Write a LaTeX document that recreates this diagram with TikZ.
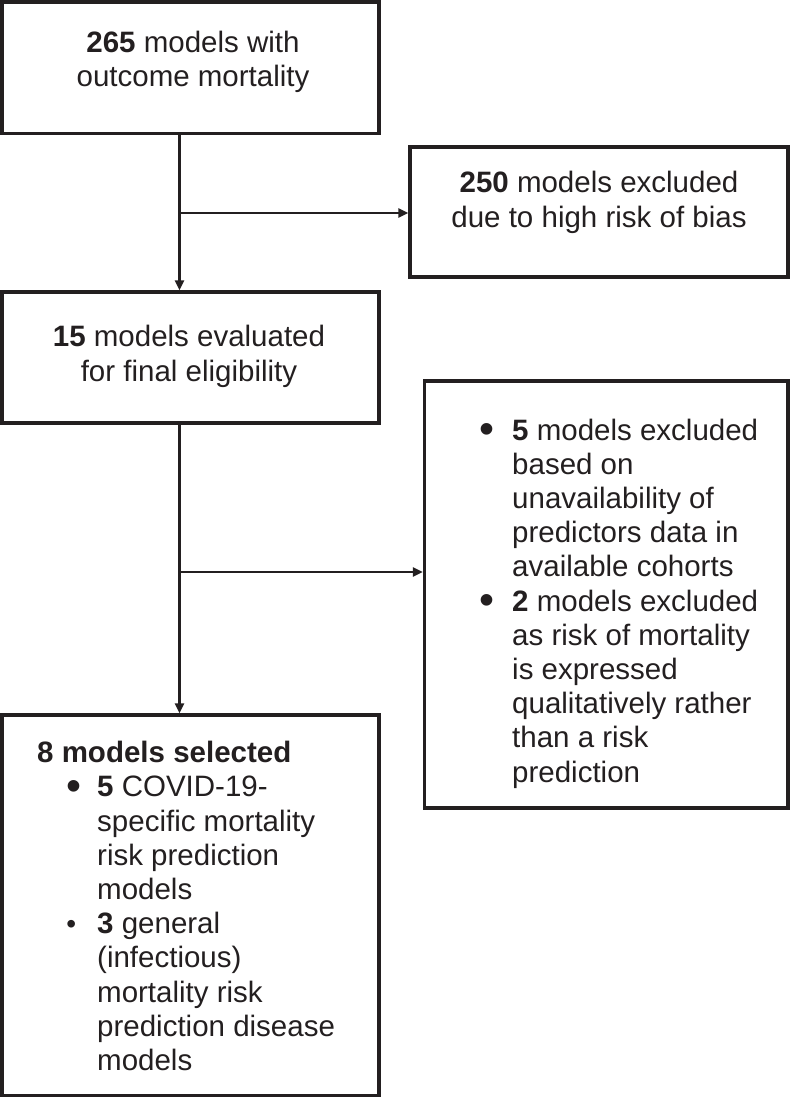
\documentclass[tikz,border=0pt]{standalone}
\usepackage{graphicx}
\usepackage{fontspec}
\setmainfont{Liberation Sans}
\usetikzlibrary{arrows.meta}
\definecolor{ink}{HTML}{231F20}
\newcommand{\itemdot}[1]{\llap{\raisebox{-3.2pt}{\scalebox{1.45}{\textbullet}}\hspace{#1}}}
\newcommand{\itemdotsmall}[1]{\llap{\scalebox{0.95}{\textbullet}\hspace{#1}}}

\begin{document}
\begin{tikzpicture}[
  x=1pt, y=-1pt,
  box/.style={draw=ink, line width=3.3pt, inner sep=0pt, minimum width=377pt},
  txt/.style={text=ink, inner sep=0pt, font=\fontsize{29.5}{34.2}\selectfont},
  flow/.style={draw=ink, line width=2.2pt},
  flowto/.style={flow, -{Triangle[length=10pt,width=9pt]}}
]
\useasboundingbox (0,0) rectangle (790,1098);

% boxes
\node[box, minimum height=131.5pt] (src) at (190.5,67.75) {};
\node[box, minimum width=378pt, minimum height=130pt] (excl1) at (599,212) {};
\node[box, minimum height=131pt] (eval) at (190.5,357.5) {};
\node[box, minimum width=363.5pt, minimum height=427pt] (excl2) at (606.25,594.5) {};
\node[box, minimum height=380.5pt] (sel) at (190.5,905.25) {};

% texts (anchored at the baseline of their last line)
\node[txt, align=center, anchor=base] (srcText) at (193,86.5) {\textbf{265} models with\\outcome mortality};
\node[txt, align=center, anchor=base] (excl1Text) at (599,227) {\textbf{250} models excluded\\due to high risk of bias};
\node[txt, align=center, anchor=base] (evalText) at (189,381) {\textbf{15} models evaluated\\for final eligibility};
\node[txt, align=left, anchor=base west] (excl2Text) at (512,782) {%
  \itemdot{17.8pt}\textbf{5} models excluded\\based on\\unavailability of\\predictors data in\\available cohorts\\
  \itemdot{17.8pt}\textbf{2} models excluded\\as risk of mortality\\is expressed\\qualitatively rather\\than a risk\\prediction};
\node[txt, anchor=base west] (selHead) at (37,762) {\textbf{8 models selected}};
\node[txt, align=left, anchor=base west] (selText) at (97,1070.5) {%
  \itemdot{15.8pt}\textbf{5} COVID-19-\\specific mortality\\risk prediction\\models\\
  \itemdotsmall{21pt}\textbf{3} general\\(infectious)\\mortality risk\\prediction disease\\models};

% connectors
\coordinate (split1) at (179.5,213);
\coordinate (split2) at (179.5,572);
\draw[flowto] (src.south -| split1) -- (eval.north -| split1);
\draw[flowto] (split1) -- (split1 -| excl1.west);
\draw[flowto] (eval.south -| split2) -- (sel.north -| split2);
\draw[flowto] (split2) -- (split2 -| excl2.west);

\end{tikzpicture}
\end{document}
